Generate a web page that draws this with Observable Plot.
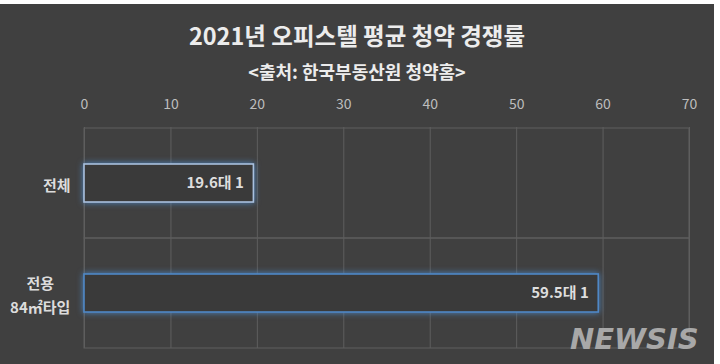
<!DOCTYPE html>
<html><head><meta charset="utf-8">
<script src="https://cdn.jsdelivr.net/npm/d3@7"></script>
<script src="https://cdn.jsdelivr.net/npm/@observablehq/plot@0.6"></script>
<style>
html,body{margin:0;padding:0;background:#fff;}
#card{position:absolute;left:0;top:4px;width:714px;height:360px;background:#404040;overflow:hidden;font-family:"Noto Sans CJK KR","Noto Sans",sans-serif;}
#title{position:absolute;left:0;width:714px;top:18px;line-height:26px;text-align:center;color:#ececec;font-weight:bold;font-size:23.5px;}
#subtitle{position:absolute;left:0;width:714px;top:56px;line-height:22px;text-align:center;color:#ececec;font-weight:bold;font-size:18px;}
#chart{position:absolute;left:0;top:86px;}
#logo{position:absolute;left:570px;top:318px;font-family:"DejaVu Sans",sans-serif;font-weight:bold;font-style:italic;font-size:29px;letter-spacing:0px;color:#a8a8a8;}
</style>
</head><body>
<div id="card">
  <div id="title">2021년 오피스텔 평균 청약 경쟁률</div>
  <div id="subtitle">&lt;출처: 한국부동산원 청약홈&gt;</div>
  <div id="chart"></div>
  <div id="logo">NEWSIS</div>
</div>
<script>
const categories = ["전체", "전용\n84㎡타입"];
const values = [19.6, 59.5];
const valueLabels = ["19.6대 1", "59.5대 1"];
const xTicks = [0, 10, 20, 30, 40, 50, 60, 70];
const barStrokes = ["#a9c0de", "#4f88c6"];

const data = categories.map((c, i) => ({category: c, value: values[i], label: valueLabels[i]}));
const font = '"Noto Sans CJK KR","Noto Sans",sans-serif';

const chart = Plot.plot({
  width: 714, height: 270,
  marginTop: 37, marginBottom: 12, marginLeft: 84, marginRight: 25,
  style: {background: "transparent", color: "#bdbdbd", fontFamily: font, fontSize: "14px"},
  x: {domain: [0, 70], ticks: xTicks, axis: "top", tickSize: 0, tickPadding: 19, label: null},
  y: {domain: categories, padding: 0, axis: null},
  color: {domain: categories, range: barStrokes},
  marks: [
    Plot.ruleX(xTicks, {stroke: "#5e5e5e", strokeWidth: 1}),
    Plot.barX(categories, {y: d => d, x1: 0, x2: 70, fill: "none", stroke: "#5e5e5e", strokeWidth: 1}),
    Plot.barX(data, {y: "category", x: "value", fill: "#3a3a3a", stroke: "category", strokeWidth: 1.6, insetTop: 36, insetBottom: 36}),
    Plot.text(data, {y: "category", x: "value", text: "label", textAnchor: "end", dx: -10, fill: "#dedede", fontWeight: "bold", fontSize: 15}),
    Plot.text(categories, {y: d => d, text: d => d, frameAnchor: "left", dx: -14, textAnchor: "end", fill: "#dcdcdc", fontWeight: "bold", fontSize: 15, lineHeight: 1.6})
  ]
});
document.getElementById("chart").appendChild(chart);

// glow on the data bars
const barGroups = chart.querySelectorAll('g[aria-label="bar"]');
if (barGroups.length > 1) barGroups[1].style.filter = "drop-shadow(0 0 3px rgba(79,140,205,0.9))";

// center multi-line category labels like the original
chart.querySelectorAll('g[aria-label="text"] text').forEach(t => {
  if (t.querySelectorAll("tspan").length > 1) {
    const w = t.getBBox().width;
    t.setAttribute("text-anchor", "middle");
    t.setAttribute("transform", (t.getAttribute("transform") || "") + ` translate(${-w / 2},0)`);
  }
});
</script>
</body></html>
